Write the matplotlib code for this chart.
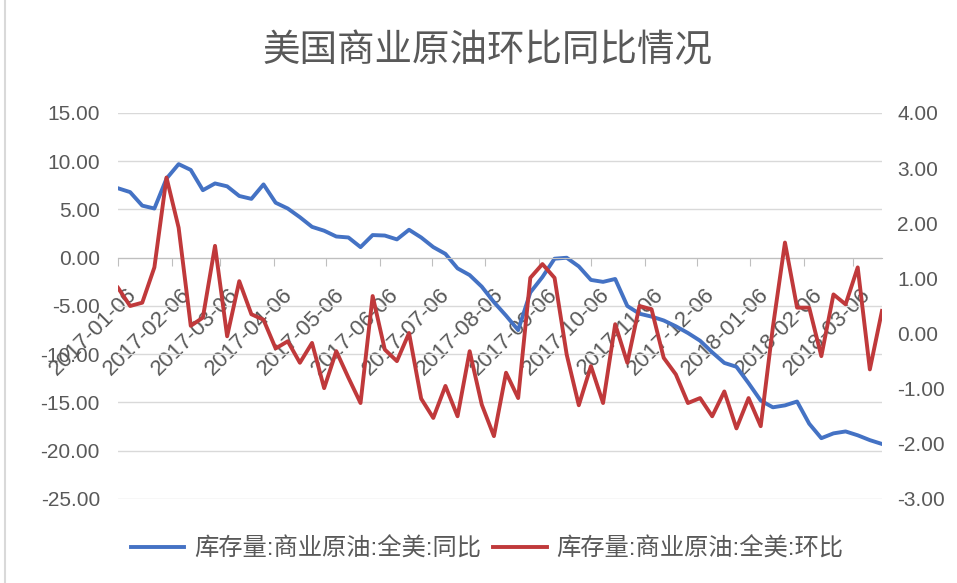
import pandas as pd
import matplotlib.pyplot as plt
from matplotlib.lines import Line2D
from matplotlib.ticker import FormatStrFormatter
from matplotlib.transforms import ScaledTranslation

plt.rcParams['font.family'] = ['Liberation Sans', 'Noto Sans CJK SC']

# weekly data, 2017-01-06 .. 2018-03-23
dates = pd.date_range('2017-01-06', periods=64, freq='7D')

# 库存量:商业原油:全美:同比 (left axis)
yoy = [7.2, 6.8, 5.4, 5.1, 8.2, 9.7, 9.1, 7.0, 7.7, 7.4,
       6.4, 6.1, 7.6, 5.7, 5.1, 4.2, 3.2, 2.8, 2.2, 2.1,
       1.1, 2.35, 2.3, 1.9, 2.9, 2.1, 1.1, 0.4, -1.1, -1.8,
       -3.0, -4.6, -6.0, -7.5, -3.6, -2.0, -0.1, 0.0, -0.9, -2.3,
       -2.5, -2.2, -5.0, -5.8, -6.1, -6.5, -7.1, -7.8, -8.6, -9.8,
       -10.9, -11.3, -13.0, -14.8, -15.5, -15.3, -14.9, -17.2, -18.7, -18.2,
       -18.0, -18.4, -18.9, -19.3]

# 库存量:商业原油:全美:环比 (right axis)
mom = [0.83, 0.5, 0.56, 1.2, 2.83, 1.92, 0.14, 0.29, 1.59, -0.05,
       0.95, 0.35, 0.25, -0.27, -0.14, -0.53, -0.17, -0.99, -0.32, -0.8,
       -1.26, 0.68, -0.29, -0.5, 0.01, -1.18, -1.53, -0.95, -1.5, -0.32,
       -1.29, -1.86, -0.71, -1.17, 1.01, 1.26, 1.01, -0.38, -1.3, -0.59,
       -1.26, 0.17, -0.53, 0.5, 0.44, -0.44, -0.74, -1.26, -1.17, -1.5,
       -1.05, -1.72, -1.17, -1.68, 0.11, 1.65, 0.47, 0.47, -0.41, 0.71,
       0.53, 1.2, -0.65, 0.41]

# month ticks on the 6th
tick_dates = pd.date_range('2017-01-01', '2018-03-01', freq='MS') + pd.Timedelta(days=5)
tick_labels = [d.strftime('%Y-%m-%d') for d in tick_dates]

title = '美国商业原油环比同比情况'
names = ['库存量:商业原油:全美:同比', '库存量:商业原油:全美:环比']

blue = '#4472c4'
red = '#c0393b'
gray = '#595959'

fig = plt.figure(figsize=(9.57, 5.83), dpi=100)
ax = fig.add_axes([0.1233, 0.1441, 0.7983, 0.6621])

l1, = ax.plot(dates, yoy, color=blue, lw=2.8, solid_joinstyle='round')
ax.set_ylim(-25, 15)
ax.set_yticks(range(-25, 16, 5))
ax.yaxis.set_major_formatter(FormatStrFormatter('%.2f'))
ax.grid(axis='y', color='#d9d9d9', lw=1)
ax.set_axisbelow(True)
for s in ['top', 'right', 'left']:
    ax.spines[s].set_visible(False)
ax.spines['bottom'].set_position(('data', 0))
ax.spines['bottom'].set_color('#bfbfbf')
ax.tick_params(axis='y', length=0, pad=13, labelsize=15, labelcolor=gray)
ax.set_xlim(dates[0], dates[-1])
ax.set_xticks(tick_dates)
ax.set_xticklabels(tick_labels, rotation=45, ha='right', va='top',
                   rotation_mode='anchor')
ax.tick_params(axis='x', length=6, color='#bfbfbf', pad=13,
               labelsize=16, labelcolor=gray)
shift = ScaledTranslation(0.08, 0, fig.dpi_scale_trans)
for lab in ax.get_xticklabels():
    lab.set_transform(lab.get_transform() + shift)

ax2 = ax.twinx()
l2, = ax2.plot(dates, mom, color=red, lw=2.8, solid_joinstyle='round')
ax2.set_ylim(-3, 4)
ax2.set_yticks(range(-3, 5))
ax2.yaxis.set_major_formatter(FormatStrFormatter('%.2f'))
for s in ax2.spines.values():
    s.set_visible(False)
ax2.tick_params(axis='y', length=0, pad=11, labelsize=15, labelcolor=gray)
ax2.set_xlim(dates[0], dates[-1])

fig.text(0.509, 0.911, title, ha='center', va='center', fontsize=27, color=gray)

leg = fig.legend([l1, l2], names, loc='center', bbox_to_anchor=(0.509, 0.058),
                 ncol=2, frameon=False, fontsize=17.5, handlelength=2.2,
                 handletextpad=0.4, columnspacing=0.5)
for t in leg.get_texts():
    t.set_color(gray)

fig.add_artist(Line2D([0.0052, 0.0052], [0, 1], color='#d9d9d9', lw=1.5,
                      transform=fig.transFigure))

fig.savefig('out.png', dpi=100)
